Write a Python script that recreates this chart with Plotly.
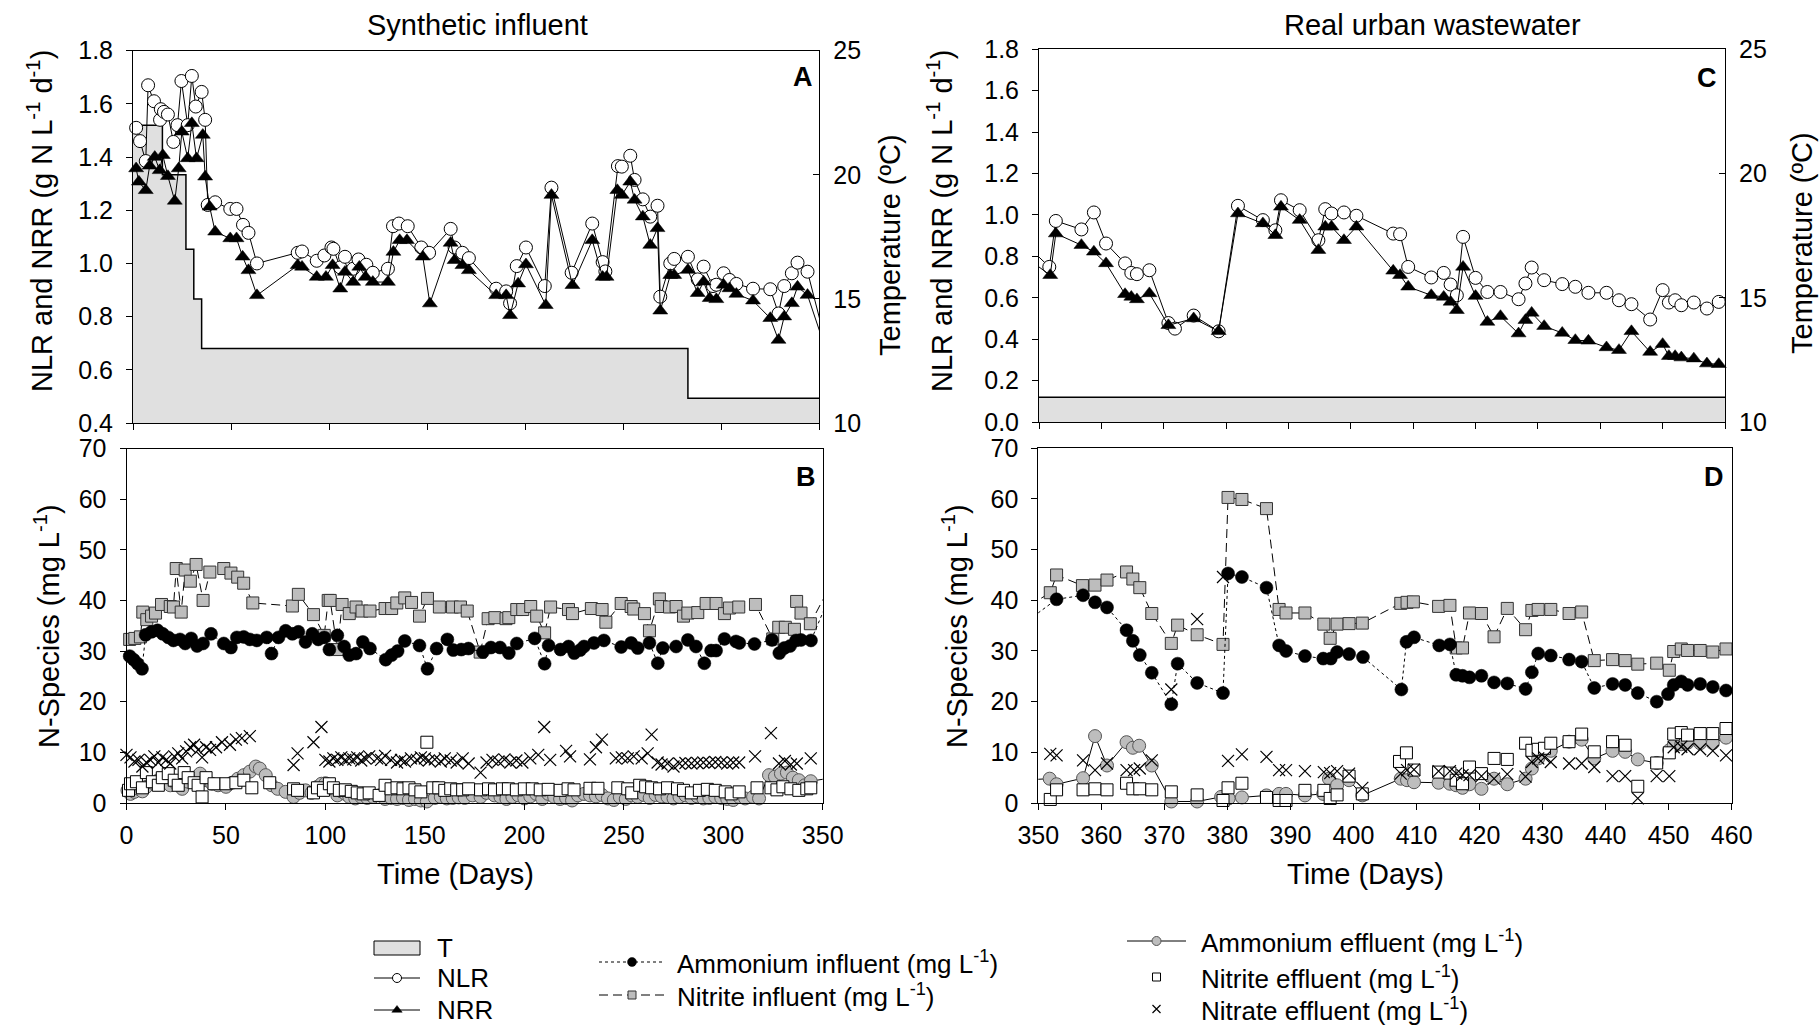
import numpy as np
import plotly.graph_objects as go

W, H = 1820, 1026
FONT = "Liberation Sans, Arial, sans-serif"

# ---------------- data ----------------
temp_day = [0, 15, 27, 31, 35, 283, 460]
temp_val = [22, 20, 17, 15, 13, 11, 11]

nlr_day = [1.6, 3.6, 6.5, 7.7, 10.7, 13.8, 14.2, 15.8, 17.8, 20.6, 22.7, 24.7, 27.9, 30.0, 32.0, 35.0, 36.8, 38.1,
           41.9, 49.6, 52.8, 56.1, 58.9, 63.2, 84, 86.2, 93.7, 97.6, 101.2, 102.2, 105.7, 108.1, 112.3, 115, 119,
           122.3, 130, 132.6, 135.6, 140.1, 147, 151, 162, 164, 168, 171.3, 185.2, 190.3, 192.3, 195.7, 200.4, 210,
           213.4, 223.7, 234.2, 239.5, 240.9, 247.3, 249.3, 253.6, 255.8, 260, 263.8, 267.5, 268.9, 274, 276, 283,
           288, 291, 295.8, 297.5, 301.2, 304.2, 307.7, 316.2, 325, 329.2, 332.1, 336, 338.9, 344,
           351.65, 352.7, 356.8, 358.8, 360.75, 363.8, 364.8, 365.7, 367.7, 370.75, 371.8, 374.8, 378.8, 381.9,
           385.9, 387.9, 388.8, 391.8, 394.8, 395.9, 396.9, 398.9, 400.9, 406.8, 407.9, 409.2, 412.9, 414.9, 416,
           417, 418, 420, 421.9, 424, 426.9, 428, 429, 431, 433.9, 436, 438.1, 441, 443, 445, 448, 450, 451, 452,
           453, 455, 457.1, 459]
nlr_val = [1.51, 1.46, 1.385, 1.67, 1.61, 1.54, 1.58, 1.57, 1.56, 1.457, 1.52, 1.686, 1.52, 1.705, 1.59, 1.645,
           1.54, 1.22, 1.23, 1.205, 1.205, 1.145, 1.115, 1.0, 1.04, 1.045, 1.01, 1.03, 1.06, 1.055, 0.985, 1.025,
           0.98, 1.015, 0.995, 0.965, 0.98, 1.14, 1.15, 1.14, 1.06, 1.04, 1.13, 1.06, 1.04, 1.02, 0.905, 0.895,
           0.85, 0.99, 1.06, 0.915, 1.285, 0.965, 1.15, 1.005, 0.97, 1.366, 1.364, 1.405, 1.314, 1.241, 1.176,
           1.217, 0.875, 1.0, 1.017, 1.025, 0.94, 0.988, 0.915, 0.92, 0.963, 0.938, 0.923, 0.905, 0.903, 0.812,
           0.915, 0.963, 1.003, 0.969,
           0.749, 0.971, 0.93, 1.012, 0.862, 0.766, 0.72, 0.714, 0.733, 0.478, 0.451, 0.514, 0.438, 1.044, 0.975,
           0.926, 1.071, 1.023, 0.878, 1.028, 1.007, 1.012, 0.996, 0.91, 0.907, 0.749, 0.698, 0.72, 0.664, 0.612,
           0.894, 0.696, 0.628, 0.628, 0.593, 0.669, 0.746, 0.685, 0.666, 0.653, 0.624, 0.624, 0.588, 0.569, 0.495,
           0.637, 0.577, 0.588, 0.564, 0.577, 0.548, 0.58]

nrr_day = [1.6, 3.0, 6.5, 8.5, 11.1, 13.6, 15.2, 17.8, 21.3, 23.3, 24.9, 27.9, 30.0, 32.4, 35.6, 36.8, 39.1, 41.9,
           49.6, 52.8, 55.9, 58.9, 63.2, 84, 86.2, 93.7, 98.4, 101.8, 105.7, 108.1, 112.3, 115.4, 118.6, 122.3,
           130, 132.8, 136, 139.7, 147.8, 151.4, 162, 164, 168, 171.3, 185.2, 190.3, 192.3, 196.4, 200.4, 210.5,
           213.4, 224.1, 234.2, 239.5, 241.5, 247, 249.3, 253.6, 255.8, 260, 263.8, 267.5, 268.9, 274, 276, 283,
           288, 291, 294.1, 297.5, 301.2, 304.2, 307.7, 316.2, 325, 329.2, 332.1, 336, 338.9, 344,
           351.8, 352.7, 356.8, 358.8, 360.75, 363.8, 364.8, 365.7, 367.7, 370.75, 374.8, 378.8, 381.9, 385.9,
           387.9, 388.8, 391.8, 394.8, 395.9, 396.9, 398.9, 400.9, 406.8, 407.9, 409.2, 412.9, 414.9, 416, 417,
           418, 420, 421.9, 424, 426.9, 428, 429, 431, 433.9, 436, 438.1, 441, 443, 445, 448, 450, 451, 452, 453,
           455, 457.1, 459]
nrr_val = [1.357, 1.307, 1.275, 1.367, 1.40, 1.35, 1.407, 1.328, 1.235, 1.357, 1.495, 1.395, 1.527, 1.395, 1.483,
           1.326, 1.213, 1.119, 1.094, 1.094, 1.025, 0.974, 0.88, 0.993, 0.987, 0.949, 0.949, 0.993, 0.905, 0.968,
           0.93, 0.987, 0.949, 0.93, 0.93, 1.043, 1.087, 1.087, 1.025, 0.849, 1.077, 1.012, 0.993, 0.974, 0.88,
           0.88, 0.805, 0.924, 0.996, 0.843, 1.257, 0.918, 1.087, 0.949, 0.949, 1.275, 1.257, 1.307, 1.239, 1.176,
           1.069, 1.132, 0.822, 0.956, 0.956, 0.975, 0.888, 0.931, 0.869, 0.865, 0.919, 0.906, 0.885, 0.86, 0.794,
           0.712, 0.80, 0.85, 0.912, 0.881,
           0.709, 0.91, 0.854, 0.822, 0.766, 0.617, 0.604, 0.592, 0.621, 0.467, 0.5, 0.438, 1.007, 0.959, 0.902,
           1.039, 0.975, 0.83, 0.943, 0.943, 0.878, 0.943, 0.73, 0.709, 0.653, 0.612, 0.604, 0.58, 0.54, 0.749,
           0.608, 0.483, 0.511, 0.427, 0.492, 0.527, 0.463, 0.43, 0.395, 0.392, 0.36, 0.347, 0.438, 0.338, 0.376,
           0.318, 0.318, 0.311, 0.306, 0.282, 0.279]

amm_in_day = [1.6, 3.6, 5.6, 7.8, 9.6, 12.6, 15.6, 18.2, 21, 23.6, 26.9, 29.5, 32.5, 35.5, 38.5, 42.5, 48.9, 52.5,
              55.5, 58.9, 62, 65.5, 70.5, 72.9, 76.4, 80, 83.4, 86.4, 90, 93.4, 96.4, 99.4, 102, 106, 109.4, 112,
              115.4, 118.8, 122.4, 130.3, 133.3, 136.3, 139.9, 147.3, 151.3, 155.9, 161.3, 164.3, 168.3, 171.9,
              179.2, 183.2, 187.8, 192.2, 196.2, 205.2, 210.2, 212.2, 218.2, 222.2, 225.1, 228.1, 230, 235, 240,
              248.7, 253.7, 257, 262.9, 267.1, 269.6, 276.3, 282.2, 286.3, 290.5, 293.9, 296.4, 300.6, 306.4, 308.1,
              315.7, 324.5, 328.2, 330.7, 333.6, 336.6, 339.1, 344.1,
              352.9, 357.1, 359, 360.9, 364, 365, 366.1, 368, 371.1, 372.1, 375.2, 379.3, 380.1, 382.3, 386.2,
              388.2, 389.3, 392.3, 395.2, 396.4, 397.4, 399.3, 401.5, 407.6, 408.4, 409.6, 413.6, 415.3, 416.3,
              417.3, 418.4, 420.3, 422.3, 424.4, 427.3, 428.3, 429.3, 431.3, 434.2, 436.2, 438.2, 441.1, 443.1,
              445.1, 448.1, 449.9, 450.8, 452, 453, 455, 457, 459.1]
amm_in_val = [29.0, 28.3, 27.5, 26.5, 33.2, 33.8, 34.1, 33.4, 32.7, 32.1, 32.3, 31.5, 32.5, 31.0, 31.5, 33.4, 31.5,
              30.7, 32.7, 32.8, 32.3, 32.1, 32.7, 29.5, 32.7, 34.0, 33.4, 33.8, 31.8, 33.4, 32.3, 32.7, 30.3, 33.1,
              30.9, 29.2, 29.5, 31.8, 30.5, 28.3, 29.2, 30.0, 32.0, 31.1, 26.5, 30.5, 32.3, 30.2, 30.3, 30.5, 29.8,
              30.7, 30.7, 29.6, 31.5, 32.5, 27.5, 31.1, 30.3, 30.9, 29.6, 30.2, 30.9, 31.6, 32.1, 30.8, 31.6, 30.6,
              31.6, 27.6, 30.6, 30.9, 32.2, 30.9, 27.6, 30.1, 30.1, 32.4, 31.9, 31.6, 31.4, 32.2, 29.6, 30.6, 31.0,
              32.1, 32.2, 32.1,
              40.2, 41.0, 39.6, 38.6, 34.1, 32.0, 29.2, 25.7, 19.5, 27.5, 23.7, 21.7, 45.3, 44.6, 42.5, 31.1, 30.0,
              29.0, 28.5, 28.5, 29.8, 29.4, 28.8, 22.4, 31.8, 32.7, 31.1, 31.3, 25.3, 25.1, 24.8, 25.1, 23.8, 23.6,
              22.5, 25.8, 29.5, 29.1, 28.3, 27.9, 22.7, 23.5, 23.3, 21.7, 20.0, 21.5, 23.3, 24.0, 23.3, 23.5, 22.9,
              22.2]

nit_in_day = [1.6, 4.2, 7, 8.2, 10.2, 12.6, 14.6, 17.6, 22, 23.6, 25, 27.5, 29.5, 32.1, 35, 38.5, 41.9, 48.9, 52.5,
              55.9, 58.9, 63.5, 83.4, 86.4, 94, 99.4, 101.4, 102.4, 106, 108.4, 112, 115.4, 118.4, 122.4, 130,
              133.3, 135.9, 139.9, 143.3, 147.3, 151.3, 157.3, 163.9, 167.9, 171.3, 177.8, 181.8, 185.2, 190.8,
              192.2, 196.2, 199.2, 203.2, 206.2, 210.2, 213.2, 222.2, 224.2, 233.7, 239.1, 241, 248.7, 253.7, 255,
              260.4, 262.9, 267.9, 268.8, 273, 276.3, 280, 282.2, 287.2, 291.4, 296.4, 300.6, 303.1, 307.8, 316.2,
              324.9, 327.9, 331.2, 335.8, 336.9, 339.1, 343.8,
              351.9, 352.9, 357, 359, 360.9, 364, 365, 366.1, 368, 371.1, 372.1, 375.2, 379.3, 380.1, 382.3, 386.2,
              388.2, 389.3, 392.3, 395.3, 396.3, 397.4, 399.3, 401.4, 407.5, 408.5, 409.5, 413.5, 415.3, 416.3,
              417.3, 418.4, 420.3, 422.3, 424.4, 427.3, 428.3, 429.3, 431.3, 434.2, 436.2, 438.2, 441.1, 443.1,
              445.1, 448.1, 450.1, 450.8, 452, 453, 455, 457, 459.1]
nit_in_val = [32.3, 32.5, 32.8, 37.7, 36.2, 36.9, 37.5, 39.2, 38.8, 38.7, 46.3, 37.7, 46.0, 43.8, 47.1, 40.0, 45.6,
              46.3, 45.4, 44.6, 43.4, 39.5, 38.9, 41.2, 37.2, 33.1, 40.0, 40.0, 30.3, 39.2, 37.4, 38.7, 37.9, 37.9,
              38.4, 38.4, 39.5, 40.5, 39.6, 36.9, 40.4, 38.7, 38.7, 38.7, 37.9, 29.8, 36.4, 36.6, 36.4, 36.6, 38.2,
              38.2, 38.8, 36.9, 33.6, 38.7, 38.2, 37.4, 38.4, 38.2, 35.7, 39.4, 38.8, 38.3, 37.4, 34.0, 40.3, 38.8,
              38.7, 38.8, 36.9, 37.5, 37.6, 39.4, 39.4, 37.4, 38.5, 38.7, 39.2, 32.4, 34.7, 34.7, 34.3, 39.8, 37.5,
              35.4,
              41.5, 45.0, 42.9, 43.0, 44.0, 45.6, 44.2, 42.5, 37.4, 31.5, 35.1, 33.2, 31.3, 60.3, 59.9, 58.1, 38.2,
              37.5, 37.5, 35.3, 32.5, 35.3, 35.4, 35.5, 39.4, 39.6, 39.7, 38.8, 39.0, 30.6, 30.6, 37.5, 37.4, 32.8,
              38.4, 34.2, 38.0, 38.2, 38.2, 37.4, 37.7, 28.1, 28.3, 28.1, 27.4, 27.6, 26.2, 29.9, 30.4, 30.1, 30.1,
              29.8, 30.4]

amm_eff_day = [0.5, 2, 4, 6, 8, 10, 13, 16, 19, 22, 25, 28, 31, 34, 37, 40, 43, 46, 50, 53, 56, 59, 62, 65, 67, 70,
               73, 76, 80, 84, 87, 90, 93, 96, 98, 100, 102, 104, 106, 108, 110, 112, 115, 118, 121, 124, 127, 130,
               133, 136, 139, 142, 145, 148, 151, 155, 158, 161, 164, 167, 170, 174, 178, 181, 185, 188, 191, 194,
               197, 200, 203, 206, 209, 212, 215, 218, 221, 224, 227, 230, 233, 236, 239, 242, 245, 248, 251, 254,
               257, 260, 263, 266, 269, 272, 275, 278, 281, 284, 287, 290, 293, 296, 299, 302, 305, 308, 311, 315,
               318, 323, 326, 329, 332, 335, 338, 341, 344,
               351.8, 352.9, 357.1, 359, 360.9, 364, 365, 366, 368, 371.1, 375.2, 379, 380.2, 382.3, 386.2, 388.2,
               389.3, 392.3, 395.2, 396.1, 397.4, 399.3, 401.4, 407.5, 408.5, 409.6, 413.5, 415.3, 416.3, 417.3,
               418.4, 420.3, 422.3, 424.4, 427.3, 428.3, 429.3, 431.3, 434.2, 436.2, 438.2, 441.1, 443.1, 445.1,
               448.1, 450.1, 450.8, 452, 453, 455, 457, 459.1]
amm_eff_val = [2.5, 1.8, 2.2, 2.8, 2.3, 3.2, 4.0, 4.5, 4.2, 3.5, 3.8, 2.8, 4.2, 5.0, 5.8, 4.5, 3.8, 3.5, 3.2, 4.0,
               4.8, 5.5, 6.2, 7.2, 6.8, 5.5, 3.5, 2.8, 2.2, 1.2, 2.0, 2.5, 2.0, 3.2, 3.8, 3.9, 3.5, 2.8, 1.5, 2.3,
               1.8, 1.2, 0.9, 1.2, 1.0, 1.2, 1.5, 0.8, 1.0, 0.8, 1.0, 0.6, 0.8, 0.5, 0.3, 1.0, 1.2, 0.9, 1.0, 1.1,
               1.0, 1.5, 1.2, 2.0, 1.5, 1.2, 0.8, 1.2, 1.5, 0.9, 1.3, 1.8, 0.8, 1.8, 1.2, 0.8, 1.0, 0.5, 1.5, 1.8,
               1.5, 1.3, 1.6, 0.9, 0.6, 1.2, 0.8, 1.5, 1.2, 1.6, 1.0, 1.6, 1.3, 1.2, 0.9, 1.2, 1.5, 1.0, 1.3, 0.9,
               1.0, 1.2, 1.0, 0.8, 0.6, 1.2, 0.9, 1.2, 0.9, 5.5, 5.2, 5.8, 6.0, 5.0, 4.5, 3.5, 4.3,
               4.8, 3.7, 4.9, 13.2, 7.4, 12.0, 10.9, 11.3, 7.4, 0.3, 0.3, 1.2, 0.9, 1.1, 1.5, 1.8, 1.8, 1.5, 1.8,
               4.8, 3.5, 4.5, 1.5, 4.8, 4.5, 4.1, 4.0, 3.8, 3.5, 3.0, 3.7, 2.8, 4.8, 3.7, 4.8, 6.8, 8.8, 10.3, 12.1,
               12.5, 8.8, 10.3, 10.1, 8.6, 7.9, 10.4, 11.4, 11.6, 11.9, 11.8, 11.8, 12.9]

nit_eff_day = [1, 2, 5, 8, 10, 13, 16, 18, 21, 24, 26, 29, 31, 34, 36, 38, 40, 44, 50, 55, 59, 63, 72, 84, 86, 94,
               96, 99, 102, 104, 107, 110, 113, 116, 119, 122, 127, 130, 133, 136, 139, 142, 145, 148, 151, 154,
               157, 160, 163, 166, 169, 172, 178, 182, 185, 189, 192, 196, 200, 204, 208, 212, 218, 222, 225, 233,
               237, 247, 252, 254, 258, 261, 264, 268, 272, 277, 280, 284, 288, 292, 296, 301, 304, 308, 317, 324,
               327, 330, 334, 338, 342, 344,
               351.9, 352.9, 357.1, 359, 360.9, 364, 365, 366.1, 368, 371.1, 375.2, 379.3, 380.1, 382.3, 386.2,
               388.2, 389.3, 392.3, 395.3, 396.3, 397.4, 399.3, 401.4, 407.3, 408.4, 409.6, 413.5, 415.3, 416.3,
               417.3, 418.4, 420.3, 422.3, 424.4, 427.3, 428.3, 429.3, 430.3, 431.3, 434.2, 436.2, 438.2, 441.1,
               443.1, 445.1, 448.1, 450.1, 450.8, 452, 453, 455, 457, 459.1]
nit_eff_val = [2.5, 3.8, 4.2, 3.0, 6.0, 4.2, 3.5, 5.0, 5.8, 4.5, 3.5, 6.0, 5.0, 4.0, 3.5, 1.2, 5.0, 3.8, 3.8, 4.0,
               4.5, 3.0, 4.0, 2.8, 2.5, 2.0, 3.0, 2.5, 3.8, 3.0, 2.5, 2.6, 2.3, 2.0, 1.8, 2.0, 1.5, 3.5, 2.8, 3.0,
               2.8, 3.0, 2.6, 2.2, 12.0, 3.0, 3.0, 2.5, 2.8, 2.6, 2.6, 2.8, 2.6, 2.8, 2.6, 2.8, 2.8, 2.6, 2.8, 2.8,
               2.6, 2.7, 2.5, 2.8, 2.6, 2.9, 2.9, 3.0, 2.8, 2.0, 3.5, 3.2, 3.0, 2.8, 3.0, 2.8, 2.5, 2.0, 2.5, 2.7,
               2.5, 2.2, 1.8, 2.2, 3.0, 3.0, 2.6, 3.2, 2.8, 2.5, 2.8, 3.0,
               0.7, 2.6, 2.6, 2.8, 2.6, 3.9, 2.8, 2.8, 2.6, 2.2, 1.6, 0.5, 3.0, 3.9, 1.1, 0.5, 0.5, 2.5, 2.5, 0.9,
               1.6, 5.3, 1.8, 8.2, 9.9, 6.5, 6.1, 5.9, 4.5, 3.8, 7.1, 5.8, 8.8, 8.6, 11.8, 10.4, 10.6, 10.8, 11.8,
               12.1, 13.6, 10.1, 12.1, 11.4, 3.3, 7.9, 9.9, 13.6, 13.9, 13.4, 13.7, 13.7, 14.7]

nat_eff_day = [0, 2, 4, 6, 8, 10, 12, 14, 16, 18, 20, 22, 24, 26, 28, 30, 32, 34, 36, 38, 40, 42, 45, 48, 52, 55,
               58, 62, 84, 86, 94, 98, 100, 102, 104, 106, 108, 110, 112, 114, 116, 118, 120, 122, 126, 128, 130,
               133, 136, 138, 140, 143, 146, 148, 150, 152, 155, 158, 160, 163, 166, 169, 172, 178, 181, 184, 187,
               190, 193, 196, 199, 203, 207, 210, 213, 221, 223, 233, 236, 239, 246, 249, 252, 255, 259, 262, 264,
               267, 269, 272, 275, 278, 281, 284, 287, 290, 293, 296, 299, 302, 305, 308, 316, 324, 328, 331, 334,
               337, 344,
               351.9, 352.9, 357.1, 359, 360.9, 364, 365.2, 366.1, 368, 371.1, 375.2, 379.3, 380.1, 382.3, 386.2,
               388.2, 389.3, 392.3, 395.3, 396.3, 397.4, 399.3, 401.4, 407.5, 408.5, 409.6, 413.5, 415.3, 416.3,
               417.3, 418.4, 420.3, 422.3, 424.4, 427.3, 428.3, 429.3, 430.3, 431.3, 434.2, 436.2, 438.2, 441.1,
               443.1, 445.1, 448.1, 450.1, 450.8, 452, 453, 455, 457, 459.1]
nat_eff_val = [9.5, 9.0, 8.2, 8.5, 7.2, 8.0, 8.5, 9.2, 8.0, 9.0, 8.5, 7.8, 9.2, 9.8, 8.8, 10.2, 11.0, 11.5, 10.5,
               9.0, 11.0, 10.5, 11.0, 12.0, 11.5, 12.5, 12.8, 13.2, 7.5, 9.8, 12.0, 15.0, 8.5, 8.2, 8.8, 8.5, 9.0,
               8.5, 8.8, 8.6, 9.0, 8.4, 8.8, 9.2, 8.8, 8.5, 9.3, 8.5, 8.0, 8.5, 8.2, 8.8, 8.5, 9.0, 8.8, 8.4, 8.6,
               8.2, 8.8, 8.4, 8.0, 8.8, 7.8, 6.0, 8.0, 8.5, 8.2, 8.6, 8.0, 8.4, 8.0, 8.8, 9.5, 15.0, 8.5, 10.3, 9.2,
               8.6, 11.0, 12.5, 8.8, 9.0, 8.8, 9.2, 8.8, 9.8, 13.5, 8.0, 7.6, 7.8, 7.2, 7.8, 7.9, 7.8, 7.9, 8.0,
               7.9, 8.1, 8.0, 7.8, 8.0, 8.0, 9.2, 13.8, 7.8, 8.3, 7.6, 7.8, 8.8,
               9.7, 9.4, 8.4, 6.5, 7.8, 6.5, 6.5, 6.8, 8.4, 22.4, 36.3, 44.6, 8.3, 9.6, 9.1, 6.5, 6.5, 6.3, 6.1, 5.9,
               6.3, 5.8, 3.0, 5.8, 6.5, 6.6, 6.3, 6.3, 5.8, 5.5, 5.5, 5.3, 4.8, 5.7, 5.2, 8.1, 8.8, 9.0, 8.1, 7.8,
               7.8, 7.1, 5.3, 5.3, 0.9, 5.3, 5.3, 11.0, 11.1, 10.6, 10.6, 10.3, 9.4]

# axis ticks
left_ticks_A = [0.4, 0.6, 0.8, 1.0, 1.2, 1.4, 1.6, 1.8]
left_ticks_C = [0.0, 0.2, 0.4, 0.6, 0.8, 1.0, 1.2, 1.4, 1.6, 1.8]
temp_ticks = [10, 15, 20, 25]
x_ticks_AB = [0, 50, 100, 150, 200, 250, 300, 350]
x_ticks_CD = [350, 360, 370, 380, 390, 400, 410, 420, 430, 440, 450, 460]
n_ticks = [0, 10, 20, 30, 40, 50, 60, 70]

# ---------------- figure ----------------
fig = go.Figure()


def dom_x(a, b):
    return [a / W, b / W]


def dom_y(top, bottom):
    return [1 - bottom / H, 1 - top / H]


def add_series(xs, ys, xa, ya, xr, line=None, marker=None):
    xs = np.asarray(xs, float)
    ys = np.asarray(ys, float)
    if line is not None:
        fig.add_trace(go.Scatter(x=xs, y=ys, mode="lines", line=line, xaxis=xa, yaxis=ya,
                                 showlegend=False, hoverinfo="skip"))
    if marker is not None:
        m = (xs >= xr[0]) & (xs <= xr[1])
        fig.add_trace(go.Scatter(x=xs[m], y=ys[m], mode="markers", marker=marker, xaxis=xa, yaxis=ya,
                                 cliponaxis=False, showlegend=False))


BLACK_LINE = dict(color="black", width=1)
m_nlr = dict(symbol="circle", size=13, color="white", line=dict(color="black", width=1))
m_nrr = dict(symbol="triangle-up", size=13, color="black", line=dict(color="black", width=0.5))
m_amm_in = dict(symbol="circle", size=13, color="black", line=dict(color="black", width=0.5))
m_nit_in = dict(symbol="square", size=12, color="#bdbdbd", line=dict(color="#333333", width=1))
m_amm_eff = dict(symbol="circle", size=13, color="#bdbdbd", line=dict(color="#555555", width=1))
m_nit_eff = dict(symbol="square", size=12, color="white", line=dict(color="black", width=1))
m_nat_eff = dict(symbol="x-thin-open", size=12, color="black", line=dict(color="black", width=1.2))
L_amm_in = dict(color="black", width=1, dash="dot")
L_nit_in = dict(color="black", width=1, dash="9px,5px")

# Panels A and C: temperature fill + NLR/NRR
for xa, yt, yl, xr in [("x", "y", "y2", (0, 350)), ("x3", "y4", "y5", (350, 460))]:
    fig.add_trace(go.Scatter(x=temp_day, y=temp_val, mode="lines", xaxis=xa, yaxis=yt,
                             line=dict(shape="hv", color="black", width=1.5), fill="tozeroy",
                             fillcolor="#e0e0e0", showlegend=False, hoverinfo="skip"))
    add_series(nlr_day, nlr_val, xa, yl, xr, BLACK_LINE, m_nlr)
    add_series(nrr_day, nrr_val, xa, yl, xr, BLACK_LINE, m_nrr)

# Panels B and D: N species
for xa, ya, xr in [("x2", "y3", (0, 350)), ("x4", "y6", (350, 460))]:
    add_series(amm_eff_day, amm_eff_val, xa, ya, xr, BLACK_LINE, m_amm_eff)
    add_series(nit_eff_day, nit_eff_val, xa, ya, xr, None, m_nit_eff)
    add_series(nat_eff_day, nat_eff_val, xa, ya, xr, None, m_nat_eff)
    add_series(nit_in_day, nit_in_val, xa, ya, xr, L_nit_in, m_nit_in)
    add_series(amm_in_day, amm_in_val, xa, ya, xr, L_amm_in, m_amm_in)

TICKF = dict(family=FONT, size=25, color="black")
base_ax = dict(showgrid=False, zeroline=False, showline=True, linecolor="black", linewidth=1,
               ticks="outside", ticklen=6, tickcolor="black", tickwidth=1, tickfont=TICKF,
               automargin=False)
ystand = dict(ticklabelstandoff=8)
xstand = dict(ticklabelstandoff=4)

layout = dict(
    width=W, height=H, margin=dict(l=0, r=0, t=0, b=0, autoexpand=False),
    paper_bgcolor="white", plot_bgcolor="rgba(0,0,0,0)", showlegend=False,
    font=dict(family=FONT, size=25, color="black"),
    xaxis=dict(base_ax, domain=dom_x(133, 819.3), anchor="y", range=[0, 350], tickvals=x_ticks_AB,
               showticklabels=False, mirror=True),
    yaxis=dict(base_ax, **ystand, domain=dom_y(50.7, 423), anchor="x", side="right", range=[10, 25],
               tickvals=temp_ticks, ticks="inside"),
    yaxis2=dict(base_ax, **ystand, overlaying="y", anchor="x", side="left", range=[0.4, 1.8],
                tickvals=left_ticks_A, ticktext=[f"{v:.1f}" for v in left_ticks_A]),
    xaxis2=dict(base_ax, **xstand, domain=dom_x(126.5, 822.7), anchor="y3", range=[0, 350],
                tickvals=x_ticks_AB, mirror=True),
    yaxis3=dict(base_ax, **ystand, domain=dom_y(448.5, 803), anchor="x2", range=[0, 70], tickvals=n_ticks,
                mirror=True),
    xaxis3=dict(base_ax, domain=dom_x(1039, 1725), anchor="y4", range=[350, 460], tickvals=x_ticks_CD,
                showticklabels=False, mirror=True),
    yaxis4=dict(base_ax, **ystand, domain=dom_y(49.3, 422), anchor="x3", side="right", range=[10, 25],
                tickvals=temp_ticks, ticks="inside"),
    yaxis5=dict(base_ax, **ystand, overlaying="y4", anchor="x3", side="left", range=[0, 1.8],
                tickvals=left_ticks_C, ticktext=[f"{v:.1f}" for v in left_ticks_C]),
    xaxis4=dict(base_ax, **xstand, domain=dom_x(1038.3, 1731.7), anchor="y6", range=[350, 460],
                tickvals=x_ticks_CD, mirror=True),
    yaxis6=dict(base_ax, **ystand, domain=dom_y(448.3, 803), anchor="x4", range=[0, 70], tickvals=n_ticks,
                mirror=True),
    xaxis5=dict(domain=[0, 1], anchor="y7", range=[0, W], visible=False, automargin=False),
    yaxis7=dict(domain=[0, 126 / H], anchor="x5", range=[H, 900], visible=False, automargin=False),
)
fig.update_layout(**layout)

# ---------------- annotations ----------------
ann = []
TF = 29


def text(x, y, s, size=TF, angle=0, xanchor="center", bold=False, ref="paper"):
    if ref == "paper":
        xx, yy, xr, yr = x / W, 1 - y / H, "paper", "paper"
    else:
        xx, yy, xr, yr = x, y, "x5", "y7"
    ann.append(dict(x=xx, y=yy, xref=xr, yref=yr, text=(f"<b>{s}</b>" if bold else s), showarrow=False,
                    textangle=angle, xanchor=xanchor, yanchor="middle",
                    font=dict(family=FONT, size=size, color="black")))


text(477, 25, "Synthetic influent")
text(1432, 25, "Real urban wastewater")
text(40, 221, "NLR and NRR (g N L<sup>-1</sup> d<sup>-1</sup>)", angle=-90)
text(940, 221, "NLR and NRR (g N L<sup>-1</sup> d<sup>-1</sup>)", angle=-90)
text(890, 245, "Temperature (ºC)", angle=-90)
text(1802, 243, "Temperature (ºC)", angle=-90)
text(47, 626, "N-Species (mg L<sup>-1</sup>)", angle=-90)
text(955, 626, "N-Species (mg L<sup>-1</sup>)", angle=-90)
text(455, 874, "Time (Days)")
text(1365, 874, "Time (Days)")
text(803, 77, "A", size=27, bold=True)
text(806, 477, "B", size=27, bold=True)
text(1707, 78, "C", size=27, bold=True)
text(1714, 477, "D", size=27, bold=True)

# ---------------- custom legend ----------------
LF = 26
shapes = [dict(type="rect", xref="x5", yref="y7", x0=374, x1=420, y0=941, y1=955,
               fillcolor="#e0e0e0", line=dict(color="black", width=1))]


def leg_item(x0, x1, y, line, marker):
    if line is not None:
        fig.add_trace(go.Scatter(x=[x0, x1], y=[y, y], mode="lines", line=line, xaxis="x5", yaxis="y7",
                                 showlegend=False, hoverinfo="skip"))
    mk = dict(marker)
    mk["size"] = max(mk["size"] - 4, 8)
    fig.add_trace(go.Scatter(x=[(x0 + x1) / 2], y=[y], mode="markers", marker=mk, xaxis="x5", yaxis="y7",
                             showlegend=False, hoverinfo="skip", cliponaxis=False))


text(435, 948, "T", size=LF, xanchor="left", ref="leg")
leg_item(374, 420, 978, BLACK_LINE, m_nlr)
text(435, 978, "NLR", size=LF, xanchor="left", ref="leg")
leg_item(374, 420, 1010, BLACK_LINE, m_nrr)
text(435, 1010, "NRR", size=LF, xanchor="left", ref="leg")

leg_item(599, 665, 962, L_amm_in, m_amm_in)
text(675, 962, "Ammonium influent (mg L<sup>-1</sup>)", size=LF, xanchor="left", ref="leg")
leg_item(599, 665, 995, L_nit_in, m_nit_in)
text(675, 995, "Nitrite influent (mg L<sup>-1</sup>)", size=LF, xanchor="left", ref="leg")

leg_item(1127, 1186, 941, BLACK_LINE, m_amm_eff)
text(1199, 941, "Ammonium effluent (mg L<sup>-1</sup>)", size=LF, xanchor="left", ref="leg")
leg_item(1127, 1186, 977, None, m_nit_eff)
text(1199, 977, "Nitrite effluent (mg L<sup>-1</sup>)", size=LF, xanchor="left", ref="leg")
leg_item(1127, 1186, 1009, None, m_nat_eff)
text(1199, 1009, "Nitrate effluent (mg L<sup>-1</sup>)", size=LF, xanchor="left", ref="leg")

fig.update_layout(annotations=ann, shapes=shapes)
fig.write_html("out.html")
